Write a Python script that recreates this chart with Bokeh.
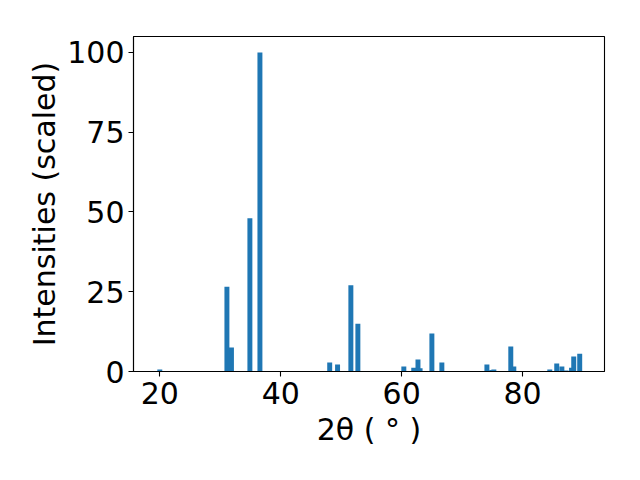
from bokeh.plotting import figure
from bokeh.models import ColumnDataSource, Range1d, FixedTicker
from bokeh.embed import file_html
from bokeh.resources import INLINE

# Peak positions (2theta, degrees) and scaled intensities, in drawing order
two_theta = [20.0, 31.1, 31.85, 34.9, 36.56, 48.1, 49.4, 51.6, 52.76,
             60.36, 62.0, 63.05, 62.7, 65.0, 66.65, 74.1, 74.9, 75.25,
             78.05, 78.55, 84.5, 85.65, 86.5, 87.2, 88.1, 88.46, 89.45]
intensity = [0.6, 26.6, 7.5, 48.0, 100.0, 2.8, 2.2, 27.0, 15.0,
             1.6, 1.2, 1.0, 3.8, 11.9, 2.8, 2.2, 0.5, 0.6,
             7.8, 1.6, 0.6, 2.5, 1.6, 0.3, 1.2, 4.7, 5.6]
x_ticks = [20, 40, 60, 80]
y_ticks = [0, 25, 50, 75, 100]

src = ColumnDataSource(dict(x=two_theta, top=intensity))

p = figure(width=624, height=464, output_backend="svg", toolbar_location=None,
           x_range=Range1d(15.65, 93.55), y_range=Range1d(0, 105),
           min_border_left=133, min_border_right=20, min_border_top=36,
           min_border_bottom=93)

p.vbar(x="x", top="top", bottom=0, width=0.82, source=src,
       fill_color="#1f77b4", line_color=None)

p.grid.visible = False
p.outline_line_color = "black"
p.outline_line_width = 1.1
p.background_fill_color = "white"
p.border_fill_color = "white"

FONT = "DejaVu Sans"
for ax in (p.xaxis[0], p.yaxis[0]):
    ax.axis_line_color = "black"
    ax.axis_line_width = 1.1
    ax.major_tick_line_color = "black"
    ax.major_tick_line_width = 1.1
    ax.major_tick_out = 5
    ax.major_tick_in = 0
    ax.minor_tick_line_color = None
    ax.major_label_text_font = FONT
    ax.major_label_text_font_size = "30px"
    ax.major_label_text_color = "black"
    ax.axis_label_text_font = FONT
    ax.axis_label_text_font_size = "30px"
    ax.axis_label_text_font_style = "normal"
    ax.axis_label_text_color = "black"

p.xaxis.ticker = FixedTicker(ticks=x_ticks)
p.yaxis.ticker = FixedTicker(ticks=y_ticks)
p.xaxis.major_label_standoff = 5
p.yaxis.major_label_standoff = 4
p.xaxis.axis_label = "2θ ( ° )"
p.yaxis.axis_label = "Intensities (scaled)"
p.xaxis.axis_label_standoff = 5
p.yaxis.axis_label_standoff = 2

open("out.html", "w").write(file_html(p, INLINE))
